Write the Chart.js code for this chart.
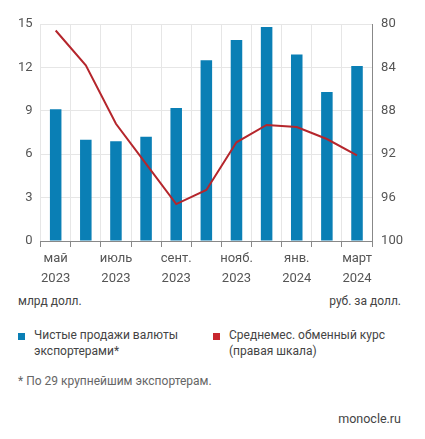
<!DOCTYPE html>
<html><head><meta charset="utf-8">
<script src="https://cdn.jsdelivr.net/npm/chart.js@4"></script>
<style>
body{margin:0;background:#fff;font-family:Roboto,"Open Sans",sans-serif;color:#444;}
#wrap{position:absolute;left:0;top:0;width:425px;height:290px;}
.t{position:absolute;font-size:12px;color:#444;}
.sq{position:absolute;width:7px;height:7px;}
</style></head><body>
<div id="wrap"><canvas id="c"></canvas></div>
<div class="t" style="left:18px;top:294px">млрд долл.</div>
<div class="t" style="right:24px;top:294px">руб. за долл.</div>
<div class="sq" style="left:18px;top:333px;background:#0a7fb5"></div>
<div class="t" style="left:34px;top:327px;line-height:16px">Чистые продажи валюты<br>экспортерами*</div>
<div class="sq" style="left:213px;top:333px;background:#c8272e"></div>
<div class="t" style="left:229px;top:327px;line-height:16px">Среднемес. обменный курс<br>(правая шкала)</div>
<div class="t" style="left:18px;top:374px;color:#666">* По 29 крупнейшим экспортерам.</div>
<div class="t" style="right:24px;top:411px;font-size:12.5px">monocle.ru</div>
<script>
const months = [['май','2023'],['',''],['июль','2023'],['',''],['сент.','2023'],['',''],['нояб.','2023'],['',''],['янв.','2024'],['',''],['март','2024']];
const sales = [9.1, 7.0, 6.9, 7.2, 9.2, 12.5, 13.9, 14.8, 12.9, 10.3, 12.1];
const rate = [80.6, 83.8, 89.2, 92.9, 96.6, 95.3, 90.9, 89.3, 89.5, 90.6, 92.1];
const leftTicks = [0, 3, 6, 9, 12, 15];
const rightTicks = [80, 84, 88, 92, 96, 100];
const tickFont = {family: 'Roboto', size: 13, lineHeight: 1.5};
new Chart(document.getElementById('c'), {
  data: {
    labels: months,
    datasets: [
      {type: 'line', data: rate, yAxisID: 'y2', borderColor: '#b5262c', borderWidth: 2, pointRadius: 0, tension: 0, order: 0},
      {type: 'bar', data: sales, yAxisID: 'y', backgroundColor: '#0a7fb5', barPercentage: 0.45, categoryPercentage: 0.85, order: 1}
    ]
  },
  options: {
    responsive: true, maintainAspectRatio: false, animation: false,
    layout: {padding: {left: 10, right: 18, top: 24, bottom: 0}},
    plugins: {legend: {display: false}, tooltip: {enabled: false}},
    scales: {
      x: {
        grid: {offset: true, color: '#e6e6e6', drawTicks: true, tickLength: 6, tickColor: '#888'},
        border: {color: '#888'},
        ticks: {color: '#555', font: tickFont, maxRotation: 0, autoSkip: false, padding: 2}
      },
      y: {
        min: 0, max: 15,
        afterBuildTicks: a => { a.ticks = leftTicks.map(v => ({value: v})); },
        grid: {color: '#e6e6e6', drawTicks: false},
        border: {display: false},
        ticks: {color: '#555', font: tickFont, padding: 8}
      },
      y2: {
        position: 'right', reverse: true, min: 80, max: 100,
        afterBuildTicks: a => { a.ticks = rightTicks.map(v => ({value: v})); },
        grid: {display: false, tickLength: 5, tickColor: '#888'},
        border: {color: '#888'},
        ticks: {color: '#555', font: tickFont, padding: 4}
      }
    }
  }
});
</script>
</body></html>
